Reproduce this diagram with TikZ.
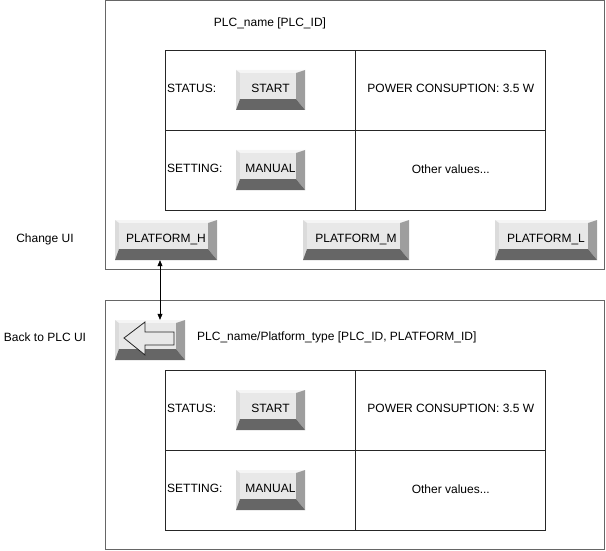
\documentclass[tikz,border=0pt]{standalone}
\usepackage{fontspec}
\setmainfont{Liberation Sans}
\usetikzlibrary{arrows.meta,positioning,calc}

\tikzset{
  frame/.style={draw=black!60, line width=0.8pt},
  txt/.style={inner sep=0pt, font=\fontsize{12}{14}\selectfont},
  cell/.style={txt, draw=black!85, line width=0.8pt, minimum width=190pt, minimum height=80pt, inner sep=0pt},
  btn/.style={txt, minimum height=40pt, inner sep=0pt, text height=9pt, text depth=4.5pt,
    path picture={
      \coordinate (sw) at (path picture bounding box.south west);
      \coordinate (ne) at (path picture bounding box.north east);
      \coordinate (nw) at (sw |- ne);
      \coordinate (se) at (ne |- sw);
      \coordinate (inw) at ($(nw)+(4,3)$);
      \coordinate (ine) at ($(ne)+(-9,3)$);
      \coordinate (ise) at ($(se)+(-9,-11)$);
      \coordinate (isw) at ($(sw)+(4,-11)$);
      \fill[black!4] (nw) -- (ne) -- (ine) -- (inw) -- cycle;
      \fill[black!14] (nw) -- (inw) -- (isw) -- (sw) -- cycle;
      \fill[black!38] (ne) -- (se) -- (ise) -- (ine) -- cycle;
      \fill[black!60] (sw) -- (isw) -- (ise) -- (se) -- cycle;
      \fill[black!9] (inw) rectangle (ise);
    }},
  link/.style={{Triangle[length=6pt,width=5pt]}-{Triangle[length=6pt,width=5pt]}, line width=0.6pt}
}

\begin{document}
\begin{tikzpicture}[x=1pt,y=-1pt]
\useasboundingbox (0,0) rectangle (606,551);

% PLC view
\draw[frame] (105,0) rectangle (604,269);
\node[txt] (title1) at (270,23) {PLC\_name [PLC\_ID]};
\node[cell] (c11) at (260,90) {};
\node[cell, right=0pt of c11, text depth=4pt] (c12) {POWER CONSUPTION: 3.5 W};
\node[cell, below=0pt of c11] (c21) {};
\node[cell, right=0pt of c21, text depth=4pt] (c22) {Other values...};
\node[txt, anchor=west] (st1) at (167,88) {STATUS:};
\node[btn, minimum width=69pt] (start1) at (270.5,90) {START};
\node[txt, anchor=west] (se1) at (167,168) {SETTING:};
\node[btn, minimum width=69pt] (man1) at (270.5,170) {MANUAL};

% platform buttons
\node[txt] (chg) at (45,239) {Change UI};
\node[btn, minimum width=102pt] (ph) at (166,240) {PLATFORM\_H};
\node[btn, minimum width=106pt] (pm) at (356,240) {PLATFORM\_M};
\node[btn, minimum width=102pt] (pl) at (546,240) {PLATFORM\_L};

% platform view
\draw[frame] (105,300) rectangle (604,549);
\node[txt] (back) at (45,337) {Back to PLC UI};
\node[btn, minimum width=70pt] (bk) at (150,340) {};
\draw[black!85, line width=0.8pt, fill=black!9]
  (124,338) -- (145,322) -- (145,332) -- (174,332) -- (174,345) -- (145,345) -- (145,355) -- cycle;
\node[txt, anchor=west] (title2) at (197,337) {PLC\_name/Platform\_type [PLC\_ID, PLATFORM\_ID]};
\node[cell] (d11) at (260,410) {};
\node[cell, right=0pt of d11, text depth=4pt] (d12) {POWER CONSUPTION: 3.5 W};
\node[cell, below=0pt of d11] (d21) {};
\node[cell, right=0pt of d21, text depth=4pt] (d22) {Other values...};
\node[txt, anchor=west] (st2) at (167,408) {STATUS:};
\node[btn, minimum width=69pt] (start2) at (270.5,410) {START};
\node[txt, anchor=west] (se2) at (167,488) {SETTING:};
\node[btn, minimum width=69pt] (man2) at (270.5,490) {MANUAL};

\draw[link] ([xshift=-6pt]ph.south) -- ([xshift=10pt]bk.north);
\end{tikzpicture}
\end{document}
